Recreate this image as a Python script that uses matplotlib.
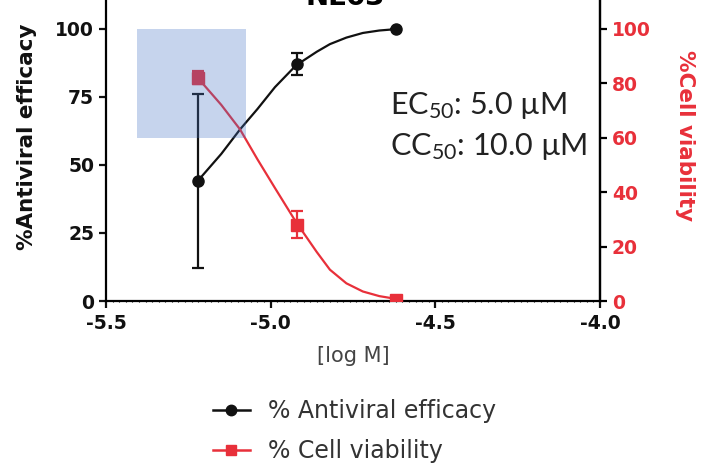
import matplotlib
matplotlib.use("Agg")
import matplotlib.pyplot as plt
from matplotlib.patches import Rectangle
from matplotlib.lines import Line2D

plt.rcParams["font.family"] = ["DejaVu Sans"]
plt.rcParams["mathtext.default"] = "regular"

# measured points (log M)
log_conc = [-5.222, -4.921, -4.620]
antiviral = [44, 87, 100]
antiviral_err = [32, 4, 0]
viability = [82, 28, 0.5]
viability_err = [2.5, 5, 1]

# fitted curves
fit_x = [-5.222, -5.15, -5.093, -5.04, -4.987, -4.923, -4.86, -4.82, -4.77, -4.72, -4.67, -4.62]
fit_antiviral = [44, 54, 63, 70.5, 78.5, 86.5, 91.5, 94.3, 96.7, 98.4, 99.3, 99.8]
fit_viability = [82, 72, 63, 52, 41.5, 29, 18, 11.5, 6.5, 3.5, 1.8, 0.8]

left_ticks = [0, 25, 50, 75, 100]
right_ticks = [0, 20, 40, 60, 80, 100]
x_ticks = [-5.5, -5.0, -4.5, -4.0]

# highlighted box (x0, x1, y0, y1)
box = [-5.406, -5.075, 60, 100]

RED = "#e8303a"
BLACK = "#111111"

fig = plt.figure(figsize=(7.14, 4.76), dpi=100)
ax = fig.add_axes([0.1485, 0.3676, 0.6917, 0.6324])
ax2 = ax.twinx()

ax.plot(fit_x, fit_antiviral, color=BLACK, lw=1.6, zorder=3)
ax.errorbar(log_conc, antiviral, yerr=antiviral_err, fmt="o", color=BLACK,
            ms=8, capsize=4, elinewidth=1.6, capthick=1.6, zorder=4)
ax2.plot(fit_x, fit_viability, color=RED, lw=1.6, zorder=3)
ax2.errorbar(log_conc, viability, yerr=viability_err, fmt="s", color=RED,
             ms=8, capsize=4, elinewidth=1.6, capthick=1.6, zorder=4)

ax2.add_patch(Rectangle((box[0], box[2]), box[1] - box[0], box[3] - box[2],
                        facecolor="#4472C4", alpha=0.3, edgecolor="none", zorder=5))

ax.set_xlim(-5.5, -4.0)
ax.set_ylim(0, 110.5)
ax2.set_ylim(0, 110.5)
ax.set_xticks(x_ticks)
ax.set_xticklabels(["-5.5", "-5.0", "-4.5", "-4.0"])
ax.set_yticks(left_ticks)
ax2.set_yticks(right_ticks)
ax.set_xticks([x / 50 for x in range(-275, -199)], minor=True)
ax.tick_params(axis="x", which="minor", length=2, width=0.8, direction="inout")

for a in (ax, ax2):
    a.spines["top"].set_visible(False)
    for s in a.spines.values():
        s.set_linewidth(1.6)
ax2.spines["left"].set_visible(False)
ax2.spines["bottom"].set_visible(False)

ax.tick_params(axis="both", which="major", length=5, width=1.6, labelsize=13.5, colors=BLACK)
ax.tick_params(axis="x", which="major", pad=4)
ax2.tick_params(axis="y", length=5, width=1.6, labelsize=13.5, colors="black", labelcolor=RED)
for lab in ax.get_xticklabels() + ax.get_yticklabels() + ax2.get_yticklabels():
    lab.set_fontweight("bold")

ax.set_ylabel("%Antiviral efficacy", fontsize=15.5, fontweight="bold", color=BLACK)
ax.yaxis.set_label_coords(-0.14, 0.545)
ax2.set_ylabel("%Cell viability", fontsize=15.5, fontweight="bold", color=RED, rotation=270)
ax2.yaxis.set_label_coords(1.192, 0.548)
ax.set_xlabel("[log M]", fontsize=15, color="#444444", labelpad=10)

ax.text(-4.638, 68.7, "EC$_{50}$: 5.0 \u00b5M", fontsize=22, family="Lato", color="#222222")
ax.text(-4.638, 53.6, "CC$_{50}$: 10.0 \u00b5M", fontsize=22, family="Lato", color="#222222")

# title is cut off at the top edge in the original
fig.text(0.483, 0.99, "NL63", fontsize=20, fontweight="bold", ha="center", va="baseline")

handles = [Line2D([], [], color=BLACK, marker="o", ms=7.5, lw=1.8),
           Line2D([], [], color=RED, marker="s", ms=7.5, lw=1.8)]
fig.legend(handles, ["% Antiviral efficacy", "% Cell viability"], loc="upper left",
           bbox_to_anchor=(0.298, 0.162), frameon=False, fontsize=17,
           borderpad=0, borderaxespad=0, handlelength=1.57, labelspacing=0.7,
           handletextpad=0.76, labelcolor="#333333")

fig.savefig("out.png", dpi=100)
